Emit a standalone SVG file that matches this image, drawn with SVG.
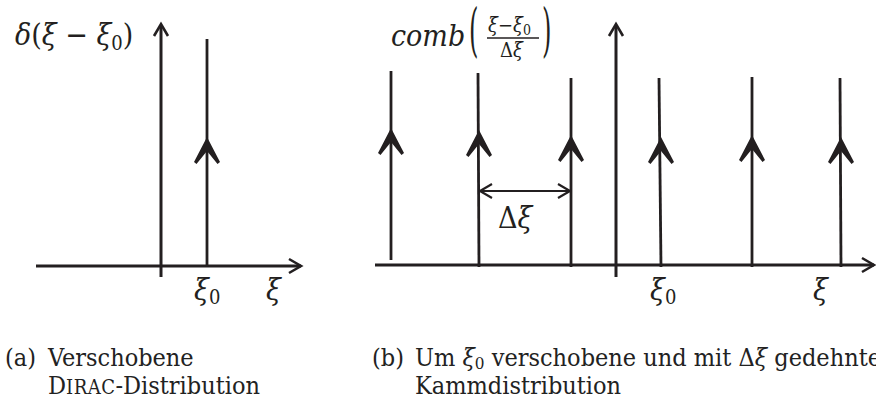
<svg xmlns="http://www.w3.org/2000/svg" width="876" height="407" viewBox="0 0 876 407">
<style>
  text { font-family:"DejaVu Serif Condensed","DejaVu Serif",serif; font-stretch:condensed; }
  .ax { stroke:#231f20; stroke-width:3; fill:none; stroke-linecap:butt; }
  .sp { stroke:#231f20; stroke-width:2.8; fill:none; }
  .ah { stroke:#231f20; stroke-width:2.6; fill:none; stroke-linejoin:miter; }
  .dim { stroke:#231f20; stroke-width:2.2; fill:none; }
  .head { fill:#231f20; }
  .m { font-style:italic; font-size:30px; fill:#231f20; }
  .up { font-style:normal; }
  .sub { font-style:normal; font-size:20px; }
  .fr { font-style:italic; font-size:20px; fill:#231f20; }
  .frsub { font-style:normal; font-size:14px; }
  .cap { font-size:25px; fill:#222; }
  .sc { font-size:20px; letter-spacing:0.5px; }
</style>
<defs>
  <path id="fh" d="M0,0 L13,25 L10.5,27 L0,14 L-10.5,27 L-13,25 Z"/>
</defs>

<g id="panel-a-axes">
  <line class="ax" x1="36" y1="266" x2="301" y2="266"/>
  <polyline class="ah" points="289,259 301,266 289,273"/>
  <line class="ax" x1="161" y1="277" x2="161" y2="25"/>
  <polyline class="ah" points="154,36 161,24 168,36"/>
</g>
<g id="panel-a-delta">
  <line class="sp" x1="207" y1="39" x2="207" y2="267"/>
  <use href="#fh" class="head" x="207" y="137"/>
</g>
<g id="panel-a-labels">
  <text class="m" x="15" y="45">δ<tspan class="up">(</tspan>ξ<tspan class="up"> − </tspan>ξ<tspan class="sub" dy="5">0</tspan><tspan class="up" dy="-5">)</tspan></text>
  <text class="m" x="194" y="300">ξ<tspan class="sub" dy="4">0</tspan></text>
  <text class="m" x="266" y="300">ξ</text>
</g>

<g id="panel-b-axes">
  <line class="ax" x1="375" y1="265" x2="874" y2="265"/>
  <polyline class="ah" points="862,258 874,265 862,272"/>
  <line class="ax" x1="616" y1="277" x2="616" y2="25"/>
  <polyline class="ah" points="609,36 616,24 623,36"/>
</g>
<g id="spike-1">
  <line class="sp" x1="391" y1="71" x2="391" y2="260"/>
  <use href="#fh" class="head" x="391" y="128"/>
</g>
<g id="spike-2">
  <line class="sp" x1="478" y1="73" x2="479" y2="267"/>
  <use href="#fh" class="head" x="479" y="130"/>
</g>
<g id="spike-3">
  <line class="sp" x1="571" y1="78" x2="571" y2="267"/>
  <use href="#fh" class="head" x="571" y="135"/>
</g>
<g id="spike-4">
  <line class="sp" x1="659" y1="78" x2="661" y2="267"/>
  <use href="#fh" class="head" x="661" y="137"/>
</g>
<g id="spike-5">
  <line class="sp" x1="752" y1="77" x2="752" y2="267"/>
  <use href="#fh" class="head" x="752" y="135"/>
</g>
<g id="spike-6">
  <line class="sp" x1="840" y1="78" x2="841" y2="267"/>
  <use href="#fh" class="head" x="841" y="137"/>
</g>
<g id="connectors">
  <line class="dim" x1="480" y1="191" x2="570" y2="191"/>
  <polyline class="dim" points="492,184 480,191 492,198"/>
  <polyline class="dim" points="558,184 570,191 558,198"/>
</g>
<g id="panel-b-labels">
  <text class="m" x="498" y="228"><tspan class="up">Δ</tspan>ξ</text>
  <text class="m" x="391" y="46">comb</text>
  <text class="m up" transform="translate(469,50) scale(0.9,1.9)" x="0" y="0">(</text>
  <text class="m up" transform="translate(542,50) scale(0.9,1.9)" x="0" y="0">)</text>
  <text class="fr" x="488" y="32">ξ<tspan class="up">−</tspan>ξ<tspan class="frsub" dy="3">0</tspan></text>
  <line x1="487" y1="38" x2="539" y2="38" stroke="#231f20" stroke-width="1.5"/>
  <text class="fr" x="500" y="57"><tspan class="up">Δ</tspan>ξ</text>
  <text class="m" x="650" y="300">ξ<tspan class="sub" dy="4">0</tspan></text>
  <text class="m" x="813" y="300">ξ</text>
</g>

<g id="caption-a">
  <text class="cap" x="5" y="366">(a)</text>
  <text class="cap" x="48" y="366">Verschobene</text>
  <text class="cap" x="48" y="394">D<tspan class="sc">IRAC</tspan>-Distribution</text>
</g>
<g id="caption-b">
  <text class="cap" x="372" y="366">(b)</text>
  <text class="cap" x="415" y="366">Um <tspan font-style="italic">ξ</tspan><tspan font-size="17" dy="3">0</tspan><tspan dy="-3"> verschobene und mit Δ</tspan><tspan font-style="italic">ξ</tspan> gedehnte</text>
  <text class="cap" x="415" y="394">Kammdistribution</text>
</g>
</svg>
